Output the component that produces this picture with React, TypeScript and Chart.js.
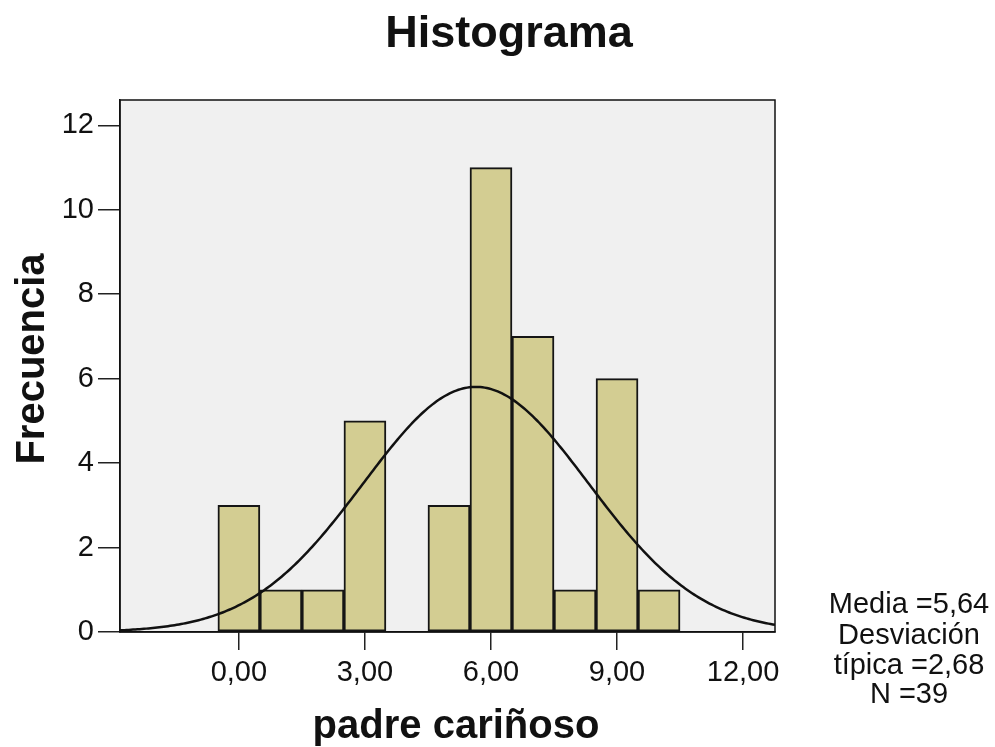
import React, { useEffect, useRef } from "react";
import { Chart, registerables } from "chart.js";

Chart.register(...registerables);

const BIN_CENTERS = [0, 1, 2, 3, 4, 5, 6, 7, 8, 9, 10];
const FREQUENCIES = [3, 1, 1, 5, 0, 3, 11, 7, 1, 6, 1];
const X_TICKS = [0, 3, 6, 9, 12];
const Y_TICKS = [0, 2, 4, 6, 8, 10, 12];
const MEAN = 5.64;
const SD = 2.68;
const N = 39;
const BIN_WIDTH = 1;
const X_MIN = -2.83;
const X_MAX = 12.76;
const Y_MAX = 12.6;
const TITLE = "Histograma";
const X_TITLE = "padre cariñoso";
const Y_TITLE = "Frecuencia";
const STATS_LINES = ["Media =5,64", "Desviación", "típica =2,68", "N =39"];

const FONT = '"Liberation Sans", Arial, sans-serif';

function normalCurve() {
  const pts: { x: number; y: number }[] = [];
  const steps = 300;
  for (let i = 0; i <= steps; i++) {
    const x = X_MIN + ((X_MAX - X_MIN) * i) / steps;
    const z = (x - MEAN) / SD;
    const y = (N * BIN_WIDTH) / (SD * Math.sqrt(2 * Math.PI)) * Math.exp(-0.5 * z * z);
    pts.push({ x, y });
  }
  return pts;
}

const fmt = (v: number) => v.toFixed(2).replace(".", ",");

export default function App() {
  const ref = useRef<HTMLCanvasElement>(null);

  useEffect(() => {
    if (!ref.current) return;
    const decor = {
      id: "decor",
      beforeDraw(chart: any) {
        const { ctx, chartArea: a } = chart;
        ctx.save();
        ctx.fillStyle = "#ffffff";
        ctx.fillRect(0, 0, chart.width, chart.height);
        ctx.fillStyle = "#f0f0f0";
        ctx.fillRect(a.left, a.top, a.right - a.left, a.bottom - a.top);
        ctx.restore();
      },
      afterDraw(chart: any) {
        const { ctx, chartArea: a } = chart;
        ctx.save();
        ctx.strokeStyle = "#111";
        ctx.lineWidth = 1.5;
        ctx.strokeRect(a.left, a.top, a.right - a.left, a.bottom - a.top);
        ctx.fillStyle = "#111";
        ctx.textAlign = "center";
        ctx.textBaseline = "alphabetic";
        ctx.font = `bold 45px ${FONT}`;
        ctx.fillText(TITLE, 509, 47);
        ctx.font = `bold 40px ${FONT}`;
        ctx.fillText(X_TITLE, 456, 738);
        ctx.save();
        ctx.translate(44, 359);
        ctx.rotate(-Math.PI / 2);
        ctx.fillText(Y_TITLE, 0, 0);
        ctx.restore();
        ctx.font = `29px ${FONT}`;
        const ys = [613, 644, 674, 703];
        STATS_LINES.forEach((t, i) => ctx.fillText(t, 909, ys[i]));
        ctx.restore();
      },
    };

    const chart = new Chart(ref.current, {
      data: {
        datasets: [
          {
            type: "line",
            data: normalCurve(),
            borderColor: "#111",
            borderWidth: 2.5,
            pointRadius: 0,
            fill: false,
            tension: 0,
            order: 0,
          },
          {
            type: "bar",
            data: BIN_CENTERS.map((x, i) => ({ x, y: FREQUENCIES[i] === 0 ? null : FREQUENCIES[i] })),
            backgroundColor: "#d3cd92",
            borderColor: "#151515",
            borderWidth: 2,
            borderSkipped: false,
            barPercentage: 1,
            categoryPercentage: 1,
            order: 1,
          },
        ] as any,
      },
      options: {
        responsive: false,
        animation: false,
        events: [],
        layout: { padding: { left: 0, top: 100, right: 220, bottom: 0 } },
        plugins: { legend: { display: false }, tooltip: { enabled: false }, title: { display: false } },
        scales: {
          x: {
            type: "linear",
            offset: false,
            min: X_MIN,
            max: X_MAX,
            afterBuildTicks: (s: any) => {
              s.ticks = X_TICKS.map((v) => ({ value: v }));
            },
            afterFit: (s: any) => {
              s.height = 115;
            },
            ticks: {
              callback: (v: any) => fmt(Number(v)),
              font: { family: FONT, size: 29 },
              color: "#111",
              padding: 6,
              maxRotation: 0,
              autoSkip: false,
            },
            grid: { offset: false, drawOnChartArea: false, drawTicks: true, tickLength: 18, color: "#222", lineWidth: 1.5 },
            border: { display: true, color: "#111", width: 1.5 },
          },
          y: {
            type: "linear",
            min: 0,
            max: Y_MAX,
            afterBuildTicks: (s: any) => {
              s.ticks = Y_TICKS.map((v) => ({ value: v }));
            },
            afterFit: (s: any) => {
              s.width = 120;
            },
            ticks: {
              font: { family: FONT, size: 29 },
              color: "#111",
              padding: 4,
              autoSkip: false,
            },
            grid: { drawOnChartArea: false, drawTicks: true, tickLength: 22, color: "#222", lineWidth: 1.5 },
            border: { display: true, color: "#111", width: 1.5 },
          },
        },
      },
      plugins: [decor],
    } as any);
    return () => chart.destroy();
  }, []);

  return (
    <div style={{ position: "absolute", left: 0, top: 0, width: 995, height: 747 }}>
      <canvas ref={ref} width={995} height={747} style={{ display: "block" }} />
    </div>
  );
}
